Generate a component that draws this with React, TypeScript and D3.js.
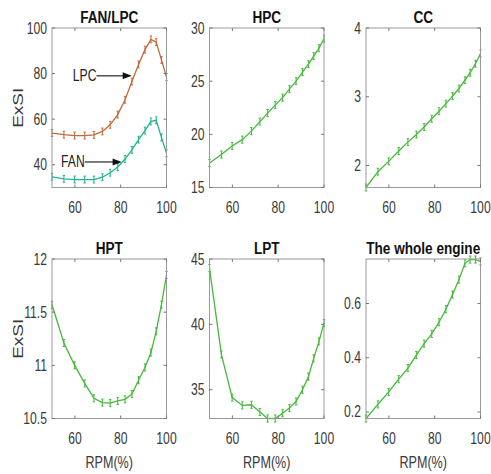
import React from "react";
import * as d3 from "d3";

// ---- data ----
const RPM = [50, 55.2, 59.9, 64.3, 68.3, 72, 75.4, 78.7, 81.9, 84.9, 87.8, 90.6, 93.2, 95.5, 97.8, 100];
const LPC = [53.9, 53.2, 52.8, 52.8, 53.1, 54.6, 57.5, 62, 68.5, 76.5, 84, 90.5, 95, 93.8, 86, 78.5];
const FAN = [34.7, 33.8, 33.5, 33.5, 33.5, 34.5, 36.5, 39, 42.5, 46.5, 51, 55, 59, 59.5, 52, 45];
const HPC = [17.3, 18.1, 18.9, 19.5, 20.3, 21.2, 22.0, 22.75, 23.45, 24.25, 25.0, 25.85, 26.6, 27.35, 28.1, 29.0];
const CC = [1.68, 1.91, 2.06, 2.21, 2.34, 2.45, 2.56, 2.68, 2.79, 2.9, 3.01, 3.12, 3.24, 3.35, 3.48, 3.63];
const HPT = [11.57, 11.21, 11.0, 10.83, 10.69, 10.65, 10.645, 10.665, 10.68, 10.73, 10.86, 10.98, 11.12, 11.32, 11.57, 11.85];
const LPT = [44.3, 37.7, 34.4, 33.8, 33.85, 33.3, 32.8, 32.8, 33.2, 33.6, 34.1, 35.0, 36.0, 37.4, 38.7, 40.1];
const ENGINE = [0.176, 0.228, 0.274, 0.321, 0.362, 0.41, 0.452, 0.488, 0.531, 0.579, 0.633, 0.688, 0.748, 0.762, 0.762, 0.755];

const TITLES = ["FAN/LPC", "HPC", "CC", "HPT", "LPT", "The whole engine"];
const Y_DOMAINS: [number, number][] = [[30, 100], [15, 30], [1.68, 4], [10.5, 12], [32.8, 45], [0.176, 0.764]];
const Y_TICKS = [[40, 60, 80, 100], [15, 20, 25, 30], [2, 3, 4], [10.5, 11, 11.5, 12], [35, 40, 45], [0.2, 0.4, 0.6]];
const X_TICKS = [60, 80, 100];
const ERR_HALF = [1.5, 0.33, 0.05, 0.033, 0.27, 0.013];
const X_LABEL = "RPM(%)";
const Y_LABEL = "ExSI";

// ---- style / layout ----
const W = 491, H = 474;
const COL_X = [52, 209.5, 366];
const ROW_Y = [28, 259];
const PW = 114.5, PH = 159.5;
const GREEN = "#45b93a";
const ORANGE = "#c4693a";
const TEAL = "#22b48c";
const FONT = "'Liberation Sans', Arial, sans-serif";

function T({ x, y, children, size = 16, anchor = "middle", weight = "normal", fill = "#3a3a3a", rotate = 0, sx = 0.76 }: any) {
  const tr = rotate ? `translate(${x},${y}) rotate(${rotate}) scale(1,${sx})` : `translate(${x},${y}) scale(${sx},1)`;
  return (
    <text transform={tr} fontSize={size} textAnchor={anchor} fontWeight={weight} fill={fill} fontFamily={FONT}>
      {children}
    </text>
  );
}

function Panel({ i, series }: { i: number; series: { vals: number[]; color: string }[] }) {
  const col = i % 3, row = Math.floor(i / 3);
  const x0 = COL_X[col], y0 = ROW_Y[row];
  const x = d3.scaleLinear().domain([50, 100]).range([x0, x0 + PW]);
  const y = d3.scaleLinear().domain(Y_DOMAINS[i]).range([y0 + PH, y0]);
  const line = d3.line<number>().x((_, k) => x(RPM[k])).y((v) => y(v));
  const e = ERR_HALF[i];
  const tl = 3;
  return (
    <g>
      {series.map((s, si) => (
        <g key={si}>
          <path d={line(s.vals) || ""} fill="none" stroke={s.color} strokeWidth={1.3} />
          {s.vals.map((v, k) => (
            <g key={k} stroke={s.color} strokeWidth={1}>
              <line x1={x(RPM[k])} x2={x(RPM[k])} y1={y(v - e)} y2={y(v + e)} />
              <line x1={x(RPM[k]) - 1.2} x2={x(RPM[k]) + 1.2} y1={y(v - e)} y2={y(v - e)} />
              <line x1={x(RPM[k]) - 1.2} x2={x(RPM[k]) + 1.2} y1={y(v + e)} y2={y(v + e)} />
            </g>
          ))}
        </g>
      ))}
      <rect x={x0} y={y0} width={PW} height={PH} fill="none" stroke="#9a9a9a" strokeWidth={1} />
      {X_TICKS.map((t) => (
        <g key={"x" + t}>
          <line x1={x(t)} x2={x(t)} y1={y0 + PH} y2={y0 + PH - tl} stroke="#777" />
          <line x1={x(t)} x2={x(t)} y1={y0} y2={y0 + tl} stroke="#777" />
          <T x={x(t)} y={y0 + PH + 25.5}>{String(t)}</T>
        </g>
      ))}
      {Y_TICKS[i].map((t) => (
        <g key={"y" + t}>
          <line x1={x0} x2={x0 + tl} y1={y(t)} y2={y(t)} stroke="#777" />
          <line x1={x0 + PW} x2={x0 + PW - tl} y1={y(t)} y2={y(t)} stroke="#777" />
          <T x={x0 - 5} y={y(t) + 5.5} anchor="end">{String(t)}</T>
        </g>
      ))}
      <T x={x0 + PW / 2} y={y0 - 5} size={17} weight="bold" fill="#111" sx={0.8}>{TITLES[i]}</T>
      {row === 1 && <T x={x0 + PW / 2} y={y0 + PH + 49} size={17} sx={0.74}>{X_LABEL}</T>}
      {col === 0 && <T x={x0 - 29} y={y0 + PH / 2} size={19} rotate={-90} sx={0.74}>{Y_LABEL}</T>}
    </g>
  );
}

function Arrow({ tx, ty, hx, label }: any) {
  return (
    <g>
      <line x1={tx} x2={hx - 6} y1={ty} y2={ty} stroke="#111" strokeWidth={1.1} />
      <path d={`M${hx},${ty} L${hx - 9},${ty - 3.5} L${hx - 9},${ty + 3.5} Z`} fill="#111" />
      <T x={tx} y={ty + 5.5} anchor="end" fill="#222">{label}</T>
    </g>
  );
}

export default function App() {
  const xA = d3.scaleLinear().domain([50, 100]).range([COL_X[0], COL_X[0] + PW]);
  const yA = d3.scaleLinear().domain(Y_DOMAINS[0]).range([ROW_Y[0] + PH, ROW_Y[0]]);
  return (
    <svg width={W} height={H} style={{ display: "block", position: "absolute", left: 0, top: 0, background: "#fff" }}>
      <Panel i={0} series={[{ vals: LPC, color: ORANGE }, { vals: FAN, color: TEAL }]} />
      <Panel i={1} series={[{ vals: HPC, color: GREEN }]} />
      <Panel i={2} series={[{ vals: CC, color: GREEN }]} />
      <Panel i={3} series={[{ vals: HPT, color: GREEN }]} />
      <Panel i={4} series={[{ vals: LPT, color: GREEN }]} />
      <Panel i={5} series={[{ vals: ENGINE, color: GREEN }]} />
      <Arrow tx={xA(69.4)} ty={yA(79)} hx={xA(84.8)} label="LPC" />
      <Arrow tx={xA(64.3)} ty={yA(41.2)} hx={xA(80.4)} label="FAN" />
    </svg>
  );
}
